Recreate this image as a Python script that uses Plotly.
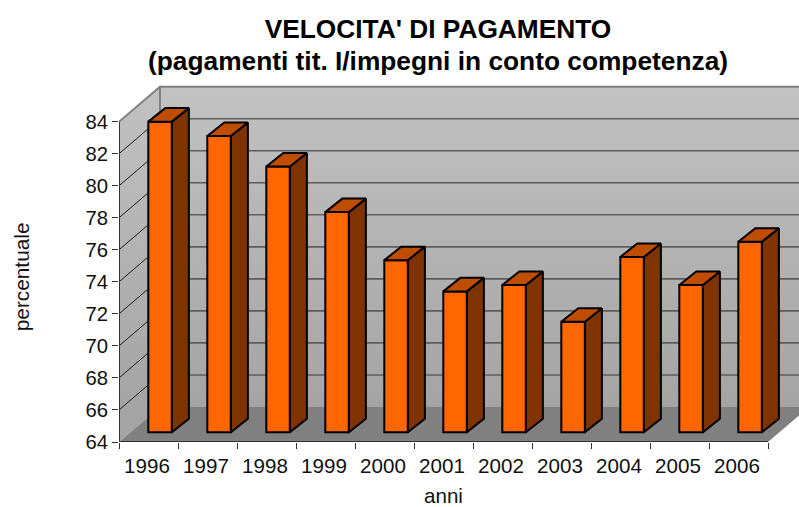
import plotly.graph_objects as go

years = ["1996", "1997", "1998", "1999", "2000", "2001", "2002", "2003", "2004", "2005", "2006"]
values = [83.4, 82.5, 80.6, 77.75, 74.75, 72.8, 73.2, 70.9, 74.95, 73.2, 75.9]
y_ticks = [64, 66, 68, 70, 72, 74, 76, 78, 80, 82, 84]

# Layout of the pseudo-3D box, in data units
W, H = 799, 507
L, T, B = 118.5, 78, 65.3
PX = (768 - L) / 11            # pixels per category
PY = 16.0                      # pixels per y unit
DX, DY = 41 / PX, 35 / PY      # box depth
X0, X1 = -0.5, 10.5
Y0, Y1 = 64, 84
X_END = X0 + (W - L) / PX      # plot area runs to the window edge
Y_END = Y0 + (H - T - B) / PY  # and above the back wall
BAR_W = 23.6 / PX
BAR_SHIFT_X, BAR_SHIFT_Y = 11.6 / PX, 9.7 / PY   # front of the bars inside the box
BAR_DX, BAR_DY = 17 / PX, 13.5 / PY              # bar depth
LABEL_SHIFT = -1.5 / PX

FONT = "Liberation Sans, Arial, sans-serif"
fig = go.Figure()


def poly(xs, ys, fill=None, line=None, lw=0, grad=None, axes=("x", "y")):
    kw = dict(fillgradient=grad) if grad else dict(fillcolor=fill)
    fig.add_trace(go.Scatter(
        x=xs, y=ys, mode="lines", fill="toself" if (fill or grad) else "none",
        line=dict(color=line or "rgba(0,0,0,0)", width=lw),
        hoverinfo="skip", showlegend=False,
        xaxis=axes[0], yaxis=axes[1], **kw))


wall = dict(type="vertical", colorscale=[[0, "#c2c2c2"], [1, "#a4a4a4"]], start=Y1 + DY, stop=Y0 + DY)

# back wall, side wall, floor
poly([X0 + DX, X1 + DX, X1 + DX, X0 + DX, X0 + DX], [Y0 + DY, Y0 + DY, Y1 + DY, Y1 + DY, Y0 + DY], grad=wall)
poly([X0, X0 + DX, X0 + DX, X0, X0], [Y0, Y0 + DY, Y1 + DY, Y1, Y0], grad=wall)
poly([X0, X1, X1 + DX, X0 + DX, X0], [Y0, Y0, Y0 + DY, Y0 + DY, Y0], fill="#808080")

# grid lines
gx, gy, sx, sy = [], [], [], []
for v in y_ticks[1:-1]:
    gx += [X0 + DX, X1 + DX, None]
    gy += [v + DY, v + DY, None]
    sx += [X0, X0 + DX, None]
    sy += [v, v + DY, None]
poly(gx, gy, line="#5c5c5c", lw=1.6)
poly(sx, sy, line="#1a1a1a", lw=1)
# wall edges
poly([X0, X0 + DX, X1 + DX], [Y1, Y1 + DY, Y1 + DY], line="#808080", lw=2)
poly([X0 + DX, X0 + DX], [Y0 + DY, Y1 + DY], line="#808080", lw=2)
# axis lines along the front of the box
poly([X0, X0, X1], [Y1, Y0, Y0], line="#333333", lw=2)

# bars
cats = list(range(len(years)))
fig.add_trace(go.Bar(
    x=[c + BAR_SHIFT_X for c in cats], y=[v - Y0 for v in values], base=Y0 + BAR_SHIFT_Y,
    width=BAR_W, marker=dict(color="#ff6600", line=dict(color="black", width=2)),
    xaxis="x2", yaxis="y2", hoverinfo="skip", showlegend=False))
for c, v in zip(cats, values):
    xl = c + BAR_SHIFT_X - BAR_W / 2
    xr = xl + BAR_W
    yt = v + BAR_SHIFT_Y
    yb = Y0 + BAR_SHIFT_Y
    poly([xr, xr + BAR_DX, xr + BAR_DX, xr, xr], [yb, yb + BAR_DY, yt + BAR_DY, yt, yb],
         fill="#7f3300", line="black", lw=2, axes=("x2", "y2"))
    poly([xl, xr, xr + BAR_DX, xl + BAR_DX, xl], [yt, yt, yt + BAR_DY, yt + BAR_DY, yt],
         fill="#bf4d00", line="black", lw=2, axes=("x2", "y2"))

pw, ph = W - L, H - T - B
fig.update_layout(
    width=W, height=H, autosize=False, margin=dict(l=L, r=0, t=T, b=B),
    paper_bgcolor="white", plot_bgcolor="rgba(0,0,0,0)", showlegend=False, barmode="overlay",
    font=dict(family=FONT, color="black"),
    title=dict(text="<b>VELOCITA' DI PAGAMENTO</b>", x=438 / W, xanchor="center",
               y=1 - 29 / H, yanchor="middle", font=dict(size=26.3)),
    annotations=[
        dict(text="<b>(pagamenti tit. I/impegni in conto competenza)</b>", xref="paper", yref="paper",
             x=(438 - L) / pw, y=1 + (T - 61) / ph, xanchor="center", yanchor="middle",
             showarrow=False, font=dict(size=26.3)),
        dict(text="percentuale", xref="paper", yref="paper", textangle=-90,
             x=(20.5 - L) / pw, y=(H - B - 277) / ph, xanchor="center", yanchor="middle",
             showarrow=False, font=dict(size=20.8, color="#111")),
        dict(text="anni", xref="paper", yref="paper",
             x=(443 - L) / pw, y=(H - B - 495) / ph, xanchor="center", yanchor="middle",
             showarrow=False, borderpad=0, font=dict(size=20.6, color="#111")),
    ],
    xaxis=dict(range=[X0, X_END], tickmode="array", tickvals=[c + LABEL_SHIFT for c in cats], ticktext=years,
               ticks="", ticklabelstandoff=9,
               tickfont=dict(size=20.6, color="#111"), showgrid=False, zeroline=False, showline=False,
               minor=dict(tickmode="array", tickvals=[c - 0.5 for c in cats] + [X1], ticks="outside",
                          ticklen=6, tickwidth=1, tickcolor="#333", showgrid=False)),
    yaxis=dict(range=[Y0, Y_END], tickmode="array", tickvals=y_ticks, ticks="outside", ticklen=6,
               tickwidth=1, tickcolor="#333", tickfont=dict(size=20.3, color="#111"),
               showgrid=False, zeroline=False, showline=False),
    xaxis2=dict(overlaying="x", matches="x", visible=False),
    yaxis2=dict(overlaying="y", matches="y", visible=False),
)
fig.write_html("out.html", config=dict(displayModeBar=False),
               post_script="document.body.style.margin='0';")
